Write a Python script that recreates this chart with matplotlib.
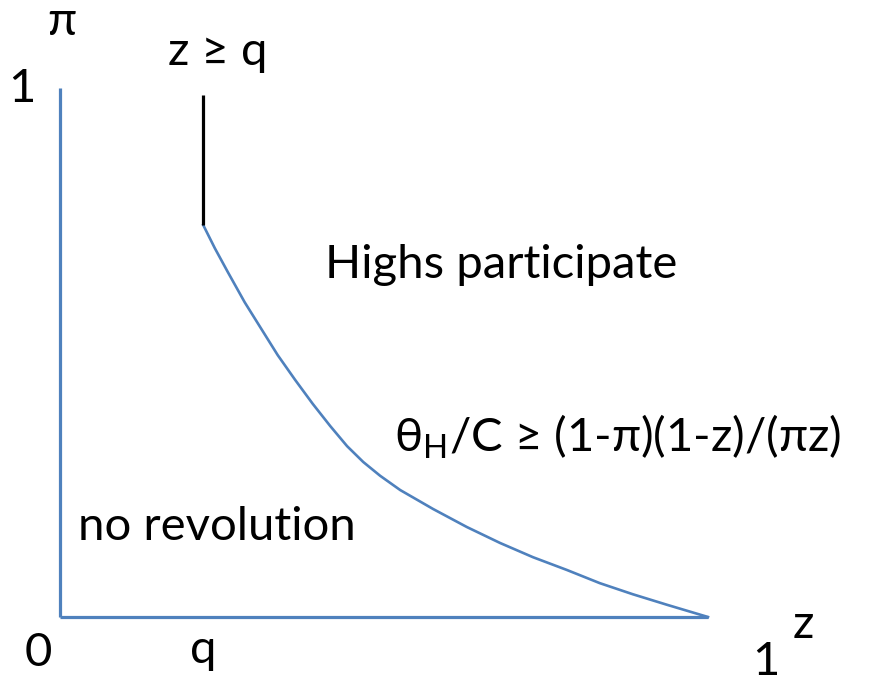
import matplotlib.pyplot as plt
import numpy as np

# boundary curve (z, pi)
curve_z = np.array([0.221, 0.239, 0.259, 0.285, 0.312, 0.336, 0.363, 0.390, 0.417, 0.443,
                    0.468, 0.494, 0.525, 0.576, 0.628, 0.679, 0.730, 0.782, 0.833, 0.884,
                    0.937, 1.0])
curve_pi = np.array([0.741, 0.697, 0.652, 0.595, 0.542, 0.495, 0.448, 0.403, 0.361, 0.323,
                     0.293, 0.267, 0.240, 0.204, 0.170, 0.140, 0.113, 0.089, 0.064, 0.043,
                     0.023, 0.0])

q = 0.221
q_top = 0.987

blue = "#4F81BD"
plt.rcParams['font.family'] = ['Lato', 'DejaVu Sans']

fig = plt.figure(figsize=(8.72, 6.79), dpi=100)
ax = fig.add_axes([0, 0, 1, 1])
ax.set_xlim(-60 / 648, 812 / 648)
ax.set_ylim(-62 / 529, 617 / 529)
ax.axis("off")

# axes
ax.plot([0, 0], [0, 1], color=blue, lw=2.3, solid_capstyle="butt")
ax.plot([0, 1], [0, 0], color=blue, lw=2.3, solid_capstyle="butt")
# boundary
ax.plot(curve_z, curve_pi, color=blue, lw=1.9, solid_joinstyle="round")
ax.plot([q, q], [curve_pi[0], q_top], color="black", lw=2.3, solid_capstyle="butt")

fs = 34
ax.text(0.003, 1.125, "π", fontsize=fs, ha="center", va="center")
ax.text(-0.059, 0.999, "1", fontsize=fs, ha="center", va="center")
ax.text(0.244, 1.068, "z ≥ q", fontsize=fs, ha="center", va="center")
ax.text(0.681, 0.665, "Highs participate", fontsize=fs, ha="center", va="center")
ax.text(0.515, 0.340, r"θ$_\mathregular{H}$/C ≥ (1-π)(1-z)/(πz)", fontsize=fs, ha="left", va="center")
ax.text(0.242, 0.170, "no revolution", fontsize=fs, ha="center", va="center")
ax.text(-0.034, -0.068, "0", fontsize=fs, ha="center", va="center")
ax.text(q, -0.062, "q", fontsize=fs, ha="center", va="center")
ax.text(1.090, -0.085, "1", fontsize=fs, ha="center", va="center")
ax.text(1.147, -0.015, "z", fontsize=fs, ha="center", va="center")

fig.savefig("out.png", dpi=100)
